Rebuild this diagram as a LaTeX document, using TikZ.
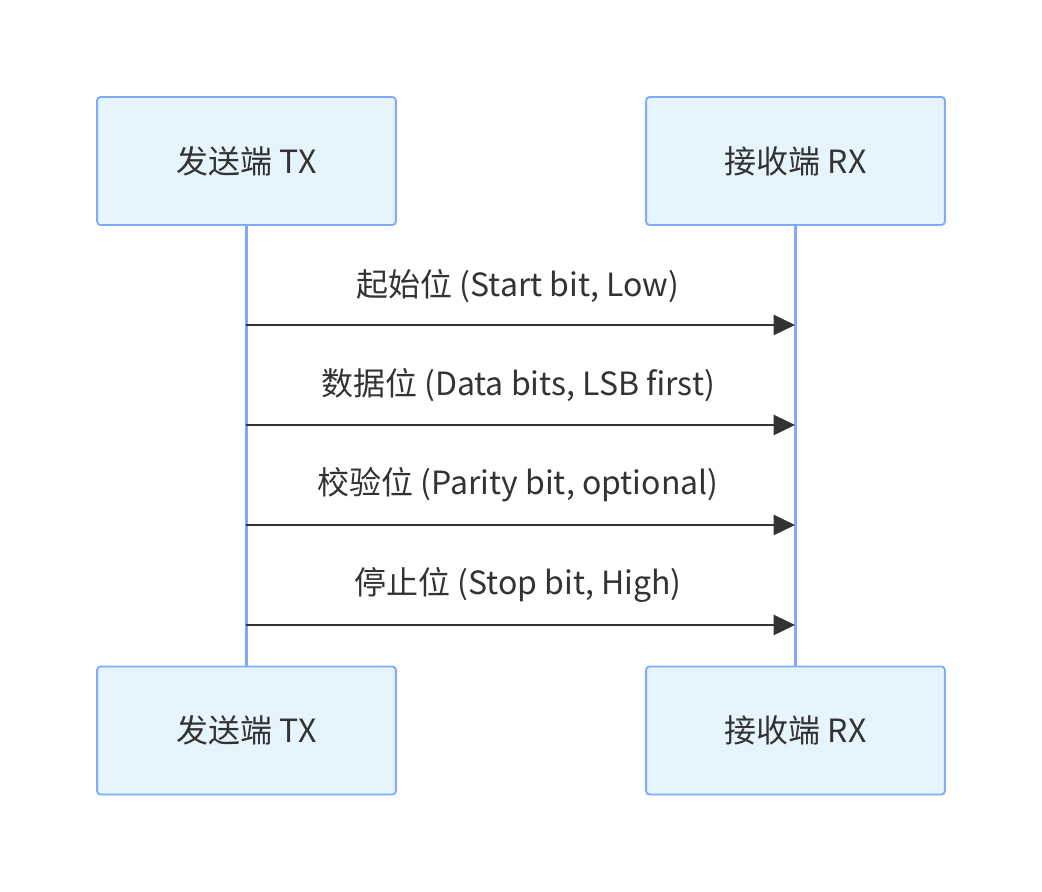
\documentclass[tikz,border=0pt]{standalone}
\usepackage{fontspec}
\setmainfont{Noto Sans CJK SC}
\usetikzlibrary{positioning,arrows.meta}
\definecolor{actfill}{HTML}{E6F5FD}
\definecolor{actdraw}{HTML}{80AAFF}
\definecolor{msgline}{HTML}{333333}

\begin{document}
\begin{tikzpicture}[x=0.75pt, y=-0.75pt,
		a/.style={draw=actdraw, fill=actfill, line width=1.4pt, rounded corners=2.5pt, minimum width=224pt, minimum height=96pt, font=\fontsize{24}{28}\selectfont, text=msgline},
		life/.style={draw=actdraw, line width=2.8pt},
		msg/.style={draw=msgline, line width=1.8pt, -{Triangle[length=16pt, width=15pt]}},
		lbl/.style={font=\fontsize{24}{28}\selectfont, text=msgline}]
		\path[use as bounding box] (0,0) rectangle (1042,892);

		\node[a] (TX) at (246.5,161) {发送端 TX};
		\node[a] (RX) at (795.5,161) {接收端 RX};
		\node[a] (TXb) at (246.5,730.5) {发送端 TX};
		\node[a] (RXb) at (795.5,730.5) {接收端 RX};

		\draw[life] (TX) -- (TXb);
		\draw[life] (RX) -- (RXb);

		\coordinate (t1) at (246,325);
		\coordinate (r1) at (795,325);
		\coordinate (t2) at (246,425);
		\coordinate (r2) at (795,425);
		\coordinate (t3) at (246,525);
		\coordinate (r3) at (795,525);
		\coordinate (t4) at (246,625);
		\coordinate (r4) at (795,625);

		\draw[msg] (t1) -- (r1);
		\node[lbl] (m1) at (518,286) {起始位 (Start bit, Low)};
		\draw[msg] (t2) -- (r2);
		\node[lbl] (m2) at (518,385) {数据位 (Data bits, LSB first)};
		\draw[msg] (t3) -- (r3);
		\node[lbl] (m3) at (518,485) {校验位 (Parity bit, optional)};
		\draw[msg] (t4) -- (r4);
		\node[lbl] (m4) at (518,585) {停止位 (Stop bit, High)};
	\end{tikzpicture}
\end{document}
